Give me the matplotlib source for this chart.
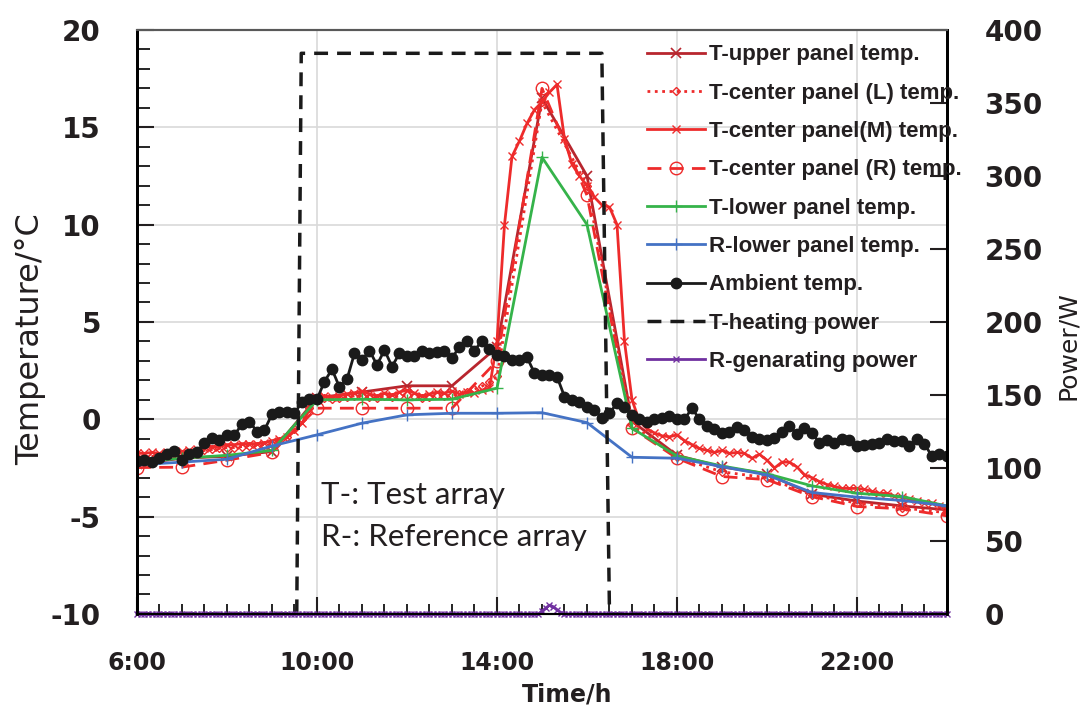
import matplotlib
matplotlib.use('Agg')
import matplotlib.pyplot as plt
from matplotlib.ticker import MultipleLocator, FixedLocator, FuncFormatter
import numpy as np

plt.rcParams['axes.unicode_minus'] = False

# ---- data (time in hours) ----
t_hourly = list(range(6, 25))
t_10min = np.arange(6 * 60, 24 * 60 + 1, 10) / 60
t_5min = np.arange(6 * 60, 24 * 60 + 1, 5) / 60

upper_temp = [-2.3, -2.0, -1.9, -1.66, 1.1, 1.4, 1.72, 1.72, 3.7, 16.5, 12.5, -0.1,
              -1.85, -2.45, -2.8, -3.85, -4.2, -4.45, -4.65]

center_m_temp = [
    -1.75, -1.75, -1.7, -1.75, -1.7, -1.7, -1.65, -1.6, -1.55, -1.45, -1.4, -1.4,
    -1.3, -1.3, -1.25, -1.25, -1.25, -1.2, -1.1, -1.0, -0.9, -0.6, -0.2, 0.5, 1.1,
    1.2, 1.15, 1.2, 1.3, 1.35, 1.45, 1.3, 1.2, 1.35, 1.25, 1.4, 1.5,
    1.35, 1.2, 1.3, 1.4, 1.35, 1.45, 1.3, 1.4, 1.35, 1.5, 1.6, 4.0,
    10.0, 13.5, 14.3, 15.2, 15.9, 16.3, 16.8, 17.2, 14.4, 13.1, 12.5, 12.0,
    11.4, 11.0, 10.9, 10.0, 4.0, 1.0, -0.1, -0.5,
    -0.7, -0.85, -0.9, -0.8, -1.1, -1.3, -1.5, -1.6, -1.7, -1.6, -1.75, -1.7,
    -1.75, -2.0, -1.8, -2.1, -2.5, -2.2,
    -2.2, -2.45, -2.85, -3.0, -3.2, -3.35, -3.45, -3.55, -3.55, -3.55, -3.6, -3.7,
    -3.8, -3.8, -3.95, -4.0, -4.1, -4.2, -4.3, -4.3, -4.45, -4.55]

center_l_time = np.concatenate([np.arange(6 * 60, 14 * 60 + 1, 10) / 60,
                                [15, 16, 17, 18, 19, 20, 21, 22, 23, 24]])
center_l_temp = [
    -2.0, -1.95, -1.9, -1.9, -1.85, -1.8, -1.8, -1.75, -1.7, -1.6, -1.55, -1.5,
    -1.45, -1.45, -1.4, -1.35, -1.35, -1.3, -1.25, -1.1, -0.9, -0.5, 0.0, 0.6, 1.0,
    1.1, 1.05, 1.1, 1.15, 1.2, 1.2, 1.15, 1.1, 1.2, 1.15, 1.2, 1.25,
    1.2, 1.1, 1.15, 1.25, 1.2, 1.25, 1.3, 1.4, 1.55, 1.7, 1.9, 2.2,
    16.3, 12.0, -0.3, -1.95, -2.7, -3.0, -3.9, -4.3, -4.55, -4.8]

center_r_temp = [-2.48, -2.46, -2.1, -1.7, 0.57, 0.57, 0.57, 0.57, 3.0, 17.0, 11.5, -0.46,
                 -2.0, -2.94, -3.1, -3.97, -4.48, -4.6, -4.96]

lower_temp = [-2.2, -2.0, -1.85, -1.6, 1.0, 1.03, 1.0, 1.03, 1.6, 13.46, 10.0, -0.46,
              -1.88, -2.4, -2.8, -3.42, -3.8, -3.97, -4.45]

ref_lower_temp = [-2.34, -2.2, -2.05, -1.37, -0.8, -0.2, 0.23, 0.31, 0.31, 0.34, -0.17, -1.95,
                  -2.0, -2.43, -2.86, -3.76, -4.0, -4.17, -4.45]

ambient_temp = [
    -2.14, -2.1, -2.2, -2.0, -1.8, -1.65, -2.1, -1.8, -1.7, -1.2, -0.97, -1.06,
    -0.8, -0.8, -0.25, -0.12, -0.63, -0.55, 0.26, 0.4, 0.4, 0.3, 0.9, 1.03, 1.03,
    1.94, 2.57, 1.65, 2.06, 3.39, 3.05, 3.53, 2.79, 3.56, 2.71, 3.39, 3.26,
    3.26, 3.53, 3.39, 3.48, 3.53, 3.14, 3.73, 4.04, 3.53, 4.04, 3.6, 3.31,
    3.26, 3.05, 3.05, 3.19, 2.37, 2.28, 2.28, 2.19, 1.17, 1.0, 0.91, 0.65,
    0.48, 0.06, 0.31, 0.83, 0.62, 0.23, 0.03, -0.15,
    0.0, 0.06, 0.17, 0.0, 0.0, 0.57, 0.0, -0.34, -0.51, -0.68, -0.63, -0.41,
    -0.54, -0.89, -1.02, -1.06, -0.97, -0.63,
    -0.37, -0.75, -0.46, -0.72, -1.2, -1.06, -1.2, -1.02, -1.06, -1.37, -1.31, -1.26,
    -1.23, -1.02, -1.14, -1.14, -1.37, -1.02, -1.26, -1.91, -1.78, -1.91]

heating_time = [6, 9.55, 9.65, 16.33, 16.5, 24]
heating_power = [0, 0, 384, 384, 0, 0]

gen_bump_time = [15.0, 15.0833, 15.1667, 15.25, 15.3333, 15.4167]
gen_bump_power = [2, 4, 6, 5, 3, 1]
gen_power = np.zeros(len(t_5min))
for bt, bp in zip(gen_bump_time, gen_bump_power):
    gen_power[np.argmin(np.abs(t_5min - bt))] = bp

x_ticks = [6, 10, 14, 18, 22]

DARK_RED = '#B8262E'
RED = '#EE2B2B'
GREEN = '#35B34A'
BLUE = '#4472C4'
BLACK = '#1A1A1A'
PURPLE = '#7030A0'
TXT = '#231F20'

fig = plt.figure(figsize=(10.89, 7.13), dpi=100)
ax = fig.add_axes([0.1258, 0.1389, 0.7438, 0.8191])
ax2 = ax.twinx()

ax.plot(t_hourly, upper_temp, color=DARK_RED, lw=2, marker='x', ms=7, mew=1.2,
        label='T-upper panel temp.')
ax.plot(center_l_time, center_l_temp, color=RED, lw=2, ls=':', marker='D', ms=4,
        mfc='none', mew=1, label='T-center panel (L) temp.')
ax.plot(t_10min, center_m_temp, color=RED, lw=2, marker='x', ms=6, mew=1,
        label='T-center panel(M) temp.')
ax.plot(t_hourly, center_r_temp, color=RED, lw=2, ls=(0, (5, 3)), marker='o', ms=9,
        mfc='none', mew=1, label='T-center panel (R) temp.')
ax.plot(t_hourly, lower_temp, color=GREEN, lw=2, marker='+', ms=9, mew=1,
        label='T-lower panel temp.')
ax.plot(t_hourly, ref_lower_temp, color=BLUE, lw=2, marker='+', ms=9, mew=1,
        label='R-lower panel temp.')
ax.plot(t_10min, ambient_temp, color=BLACK, lw=2, marker='o', ms=7.5,
        label='Ambient temp.')

ax2.plot(heating_time, heating_power, color=BLACK, lw=2.5, ls=(0, (4, 2.6)),
         label='T-heating power')
ax2.plot(t_5min, gen_power, color=PURPLE, lw=2, marker='x', ms=5, mew=1,
         label='R-genarating power', clip_on=False)

ax.set_xlim(6, 24)
ax.set_ylim(-10, 20)
ax2.set_ylim(0, 400)

ax.xaxis.set_major_locator(FixedLocator(x_ticks))
ax.xaxis.set_minor_locator(MultipleLocator(0.5))
ax.xaxis.set_major_formatter(FuncFormatter(lambda v, p: f'{int(v)}:00'))
ax.yaxis.set_major_locator(MultipleLocator(5))
ax.yaxis.set_minor_locator(MultipleLocator(1))
ax2.yaxis.set_major_locator(MultipleLocator(50))

ax.grid(True, which='major', color='#D9D9D9', lw=1.2)
ax.set_axisbelow(True)

ax.tick_params(axis='both', which='major', direction='in', length=12, width=1.5,
               colors=TXT)
ax.tick_params(axis='y', which='major', labelsize=20, pad=26)
ax.tick_params(axis='x', which='major', labelsize=17, pad=27)
ax.tick_params(axis='y', which='minor', direction='in', length=9, width=1.2)
ax.tick_params(axis='x', which='minor', direction='in', length=7, width=1.2)
ax2.tick_params(axis='y', which='major', direction='in', length=12, width=1.5,
                labelsize=20, colors=TXT, pad=27)
for lab in ax.get_xticklabels() + ax.get_yticklabels() + ax2.get_yticklabels():
    lab.set_fontweight('bold')

for a in (ax, ax2):
    a.spines['left'].set_linewidth(2)
    a.spines['right'].set_linewidth(2)
    a.spines['bottom'].set_linewidth(1.5)
    a.spines['top'].set_color('#595959')
    a.spines['top'].set_linewidth(1.5)

ax.set_ylabel('Temperature/°C', fontsize=23, color=TXT)
ax.yaxis.set_label_coords(-0.112, 0.47)
ax2.set_ylabel('Power/W', fontsize=18, color=TXT)
ax2.yaxis.set_label_coords(1.134, 0.46)
ax.set_xlabel('Time/h', fontsize=17, fontweight='bold', color=TXT)
ax.xaxis.set_label_coords(0.531, -0.118)

ax.text(10.1, -3.88, 'T-: Test array', fontsize=22.5, family=['Lato', 'DejaVu Sans'],
        va='center', color=TXT)
ax.text(10.1, -6.04, 'R-: Reference array', fontsize=22.5, family=['Lato', 'DejaVu Sans'],
        va='center', color=TXT)

h1, l1 = ax.get_legend_handles_labels()
h2, l2 = ax2.get_legend_handles_labels()
leg = ax2.legend(h1 + h2, l1 + l2, loc='upper left', bbox_to_anchor=(0.612, 1.0),
                 frameon=False, borderaxespad=0.25, handlelength=2.6, handletextpad=0.2,
                 labelspacing=0.78, prop={'family': 'Liberation Sans', 'weight': 'bold',
                                          'size': 16})
for txt in leg.get_texts():
    txt.set_color(TXT)

fig.savefig('out.png', dpi=100)
